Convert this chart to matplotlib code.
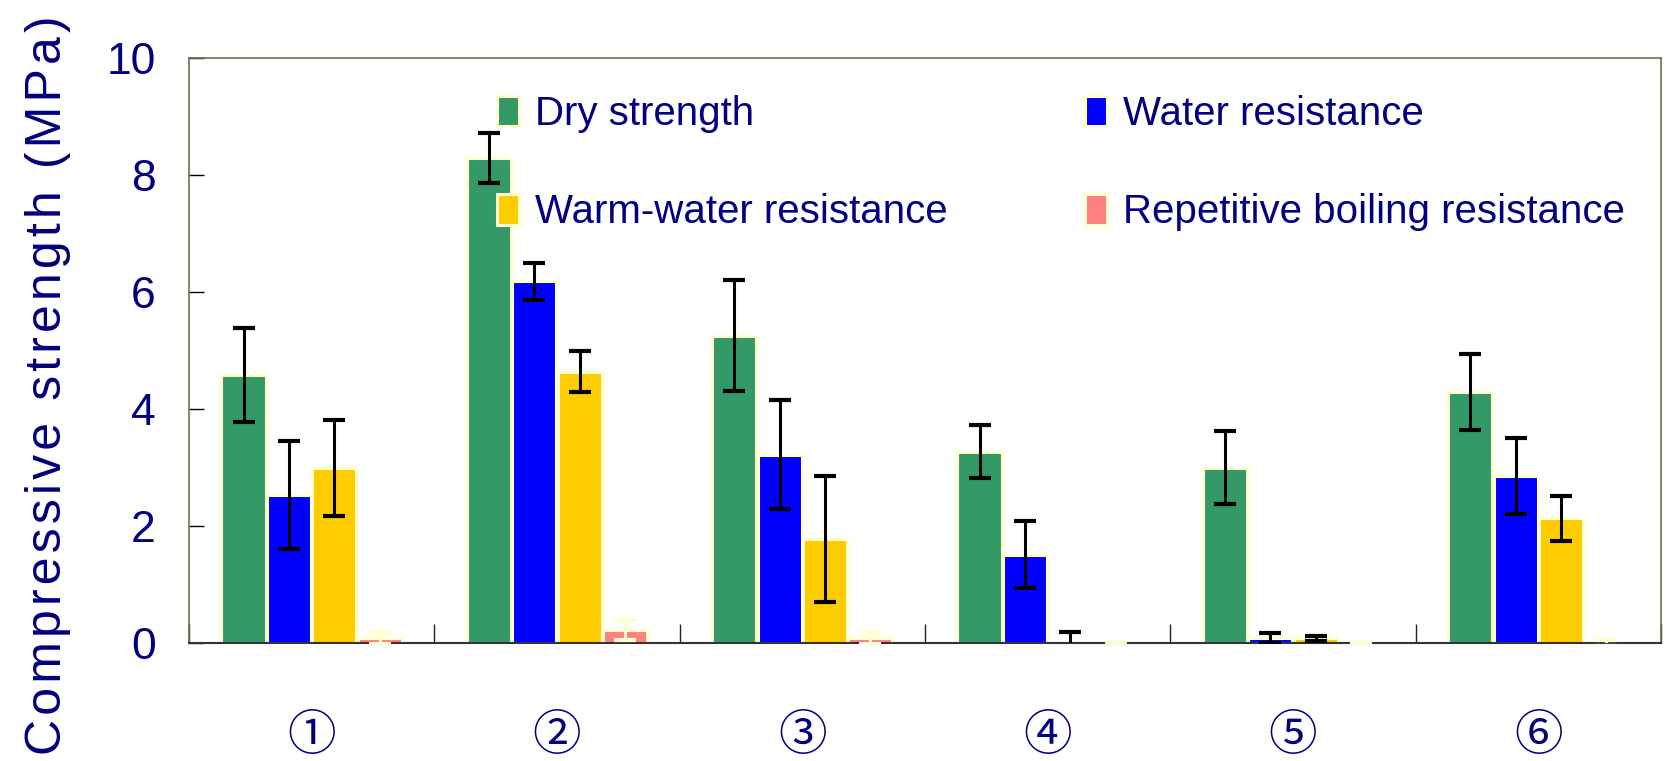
import matplotlib
matplotlib.use("Agg")
import matplotlib.pyplot as plt
from matplotlib import font_manager
from matplotlib.patches import Patch
import numpy as np

categories = ["①", "②", "③", "④", "⑤", "⑥"]
series_names = ["Dry strength", "Water resistance", "Warm-water resistance",
                "Repetitive boiling resistance"]
dry = [4.58, 8.29, 5.25, 3.27, 3.00, 4.29]
dry_err = [0.81, 0.43, 0.95, 0.45, 0.62, 0.65]
water = [2.53, 6.18, 3.22, 1.51, 0.09, 2.85]
water_err = [0.92, 0.32, 0.93, 0.57, 0.09, 0.65]
warm = [3.00, 4.64, 1.78, 0.0, 0.08, 2.13]
warm_err = [0.82, 0.35, 1.08, 0.19, 0.04, 0.38]
boil = [0.09, 0.22, 0.09, 0.0, 0.0, 0.0]
boil_err = [0.10, 0.17, 0.10, 0.0, 0.0, 0.05]
y_ticks = [0, 2, 4, 6, 8, 10]

colors = ["#339966", "#0000FF", "#FFCC00", "#FF8080"]
err_colors = ["black", "black", "black", "#FFFFCC"]
edge = "#FFFFCC"
navy = "#000080"

names = {f.name for f in font_manager.fontManager.ttflist}
main_font = "Liberation Sans Narrow" if "Liberation Sans Narrow" in names else "Liberation Sans"
fonts = [main_font, "DejaVu Sans"]
circ_fonts = ["Noto Sans CJK JP", "DejaVu Sans"]

fig = plt.figure(figsize=(16.66, 7.61), dpi=100)
ax = fig.add_axes([0.1134, 0.155, 0.997 - 0.1134, 0.9238 - 0.155])

x = np.arange(len(categories))
w = 0.18
step = 0.185
vals = [dry, water, warm, boil]
errs = [dry_err, water_err, warm_err, boil_err]
for k in range(4):
    pos = x + (k - 1.5) * step
    ax.bar(pos, vals[k], width=w, color=colors[k], edgecolor=edge, linewidth=2.2,
           zorder=2)
    ax.errorbar(pos, vals[k], yerr=errs[k], fmt="none", ecolor=err_colors[k],
                elinewidth=2.2, capsize=8, capthick=3, zorder=3)

ax.set_xlim(-0.5, 5.5)
ax.set_ylim(0, 10)
ax.set_yticks(y_ticks)
ax.set_yticklabels([str(v) for v in y_ticks], fontsize=32, color=navy, family=fonts)
ax.tick_params(axis="y", direction="in", length=11, width=1, pad=24, color="black")

ax.set_xticks(np.arange(-0.5, 5.6, 1.0))
ax.set_xticklabels([])
ax.tick_params(axis="x", which="major", direction="in", length=14, width=1, color="#222222")
ax.set_xticks(x, minor=True)
ax.set_xticklabels(categories, minor=True, fontsize=35, color=navy, family=circ_fonts)
ax.tick_params(axis="x", which="minor", length=0, pad=49)

for s in ["top", "right", "left"]:
    ax.spines[s].set_color("#6E6E50")
    ax.spines[s].set_linewidth(1.2)
ax.spines["bottom"].set_color("#333333")
ax.spines["bottom"].set_linewidth(1.5)

ylabel = "\u200a".join("Compressive strength (MPa)")
ax.set_ylabel(ylabel, fontsize=36, color=navy, family=fonts)
ax.yaxis.set_label_coords(-0.08, 0.44)

handles = [Patch(facecolor=c, edgecolor=edge, linewidth=2.2) for c in colors]
leg = ax.legend([handles[i] for i in [0, 2, 1, 3]], [series_names[i] for i in [0, 2, 1, 3]],
                ncol=2, frameon=False, loc="upper left", bbox_to_anchor=(0.19, 0.985),
                prop={"family": fonts, "size": 29}, handlelength=0.55,
                handleheight=0.8, handletextpad=0.4, columnspacing=3.4,
                labelspacing=1.5, borderaxespad=0.3)
for t in leg.get_texts():
    t.set_color(navy)

fig.savefig("out.png", dpi=100)
